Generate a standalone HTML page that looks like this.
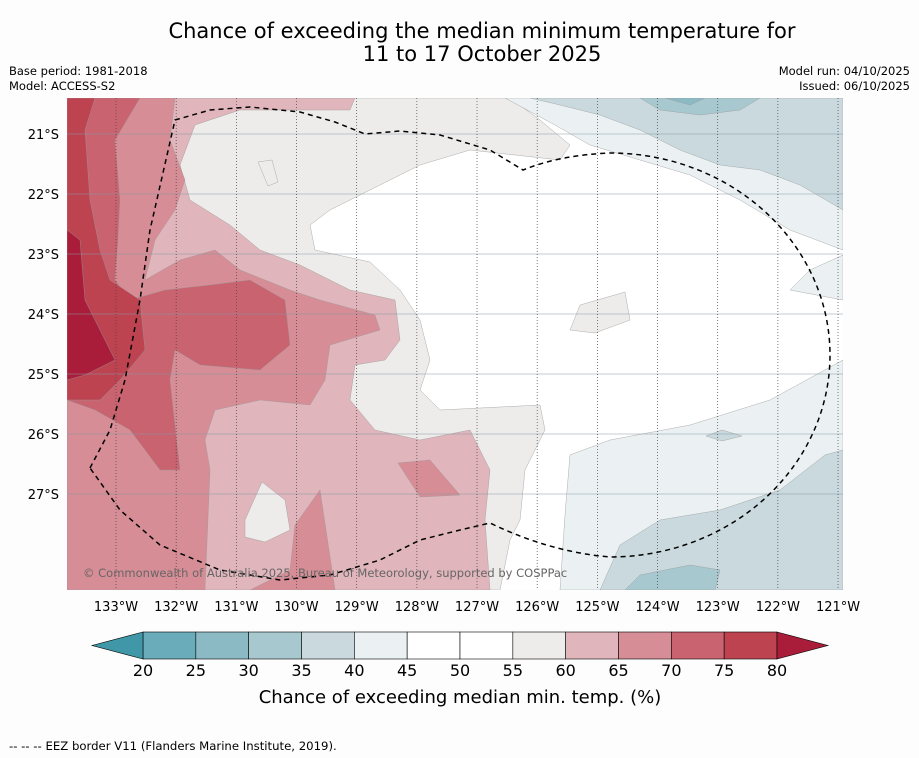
<!DOCTYPE html>
<html><head><meta charset="utf-8"><style>
body{margin:0;background:#fdfdfd;}
svg{display:block;font-family:"DejaVu Sans","Liberation Sans",sans-serif;}
</style></head><body>
<svg id="chart" width="919" height="758" viewBox="0 0 919 758">
<rect width="919" height="758" fill="#fdfdfd"/>
<text x="482" y="38" font-size="21" text-anchor="middle" fill="#000">Chance of exceeding the median minimum temperature for</text>
<text x="482" y="61" font-size="21" text-anchor="middle" fill="#000">11 to 17 October 2025</text>
<text x="9" y="75" font-size="11.5">Base period: 1981-2018</text>
<text x="9" y="90" font-size="11.5">Model: ACCESS-S2</text>
<text x="910" y="75" font-size="11.5" text-anchor="end">Model run: 04/10/2025</text>
<text x="910" y="90" font-size="11.5" text-anchor="end">Issued: 06/10/2025</text>
<defs><clipPath id="mapclip"><rect x="67" y="98" width="776" height="492"/></clipPath></defs>
<g clip-path="url(#mapclip)">
<rect x="67" y="98" width="776" height="492" fill="#ffffff"/>
<g id="contours" stroke="#999" stroke-width="0.4"></g>
<g id="grid"></g>
<path id="eez" fill="none" stroke="#000" stroke-width="1.5" stroke-dasharray="5,4"
d="M90,468 L110,430 L125,380 L140,300 L150,230 L175,120 L210,110 L250,107 L300,112 L335,122 L365,134 L400,131 L440,135 L490,150 L523,170 Q560,155 610,153 A220,202 0 0 1 610,557 Q550,552 490,523 L460,530 L420,540 L380,560 L330,575 L280,580 L220,570 L160,545 L120,510 Z"/>
<text x="83" y="577" font-size="11.5" fill="#666">© Commonwealth of Australia 2025, Bureau of Meteorology, supported by COSPPac</text>
</g>
<g id="axes"></g>
<g id="colorbar"></g>
<text x="460" y="703" font-size="18" text-anchor="middle">Chance of exceeding median min. temp. (%)</text>
<text x="9" y="750" font-size="11.7">--  --  -- EEZ border V11 (Flanders Marine Institute, 2019).</text>
</svg>
<script>
const levels=[20,25,30,35,40,45,50,55,60,65,70,75,80];
const levelColors=["#6aacba","#8bbac5","#a8c8cf","#c9d9de","#ebf1f3","#ffffff","#ffffff","#eeeceb","#e0b5bb","#d68d96","#c9636f","#bd4351"];
const underColor="#3f97a8", overColor="#a91d3a";
const lonTicks=[133,132,131,130,129,128,127,126,125,124,123,122,121];
const latTicks=[21,22,23,24,25,26,27];
const NS="http://www.w3.org/2000/svg";
const xLon=l=>116+(133-l)*60.17;
const yLat=l=>134+(l-21)*60;
const cx=v=>143+(v-20)*(634/60);
function mk(t,a,p){const e=document.createElementNS(NS,t);for(const k in a)e.setAttribute(k,a[k]);p.appendChild(e);return e;}
const regions=[
["#eeeceb","67,98 510,98 540,120 570,145 560,160 470,150 420,165 380,185 330,210 310,225 315,250 370,262 400,290 420,320 430,360 420,390 440,410 540,405 545,430 525,470 520,520 510,540 500,590 67,590"],
["#eeeceb","570,330 580,305 625,292 630,320 595,333"],
["#ebf1f3","505,98 843,98 843,250 790,230 740,200 690,175 640,160 590,145 555,125"],
["#ebf1f3","843,255 843,300 790,290 810,270"],
["#ebf1f3","843,360 843,590 560,590 565,515 570,455 610,440 690,425 770,400"],
["#c9d9de","530,98 843,98 843,210 800,185 760,170 720,165 680,150 640,130 600,115 560,105"],
["#c9d9de","600,590 620,545 660,520 720,510 780,490 825,455 843,450 843,590"],
["#c9d9de","706,436 722,430 742,436 722,441"],
["#a8c8cf","640,98 760,98 740,110 700,115 660,110"],
["#a8c8cf","625,590 640,575 690,565 720,570 715,590"],
["#8bbac5","665,98 705,98 690,105"],
["#e0b5bb","67,98 355,98 350,110 240,110 195,125 180,165 190,200 230,225 260,250 300,265 350,290 395,300 400,340 385,360 355,365 350,400 375,430 420,440 470,430 490,470 485,520 490,590 67,590"],
["#eeeceb","245,520 262,482 285,500 290,530 265,542 245,537"],
["#eeeceb","258,162 272,160 278,182 268,186"],
["#d68d96","67,98 175,98 170,140 185,180 175,210 155,240 145,280 180,260 215,250 240,270 290,290 320,300 375,315 380,330 330,345 325,380 310,405 260,400 215,410 205,440 210,470 205,590 67,590"],
["#d68d96","398,463 430,460 460,495 420,497"],
["#d68d96","295,525 320,490 335,590 250,590 290,570"],
["#c9636f","67,98 140,98 115,140 120,200 118,240 115,280 130,300 165,290 210,285 250,280 285,300 290,345 260,370 200,365 175,350 170,380 180,470 160,470 130,430 95,410 67,400"],
["#bd4351","67,98 95,98 85,130 90,200 100,250 110,280 140,300 145,350 120,380 100,400 67,400"],
["#a91d3a","67,230 80,240 85,300 100,330 115,360 85,375 67,380"]];
const cg=document.getElementById('contours');
regions.forEach(r=>{const p=mk('polygon',{points:r[1],fill:r[0]},cg);

});
const gg=document.getElementById('grid');
latTicks.forEach(l=>{const ln=mk('line',{x1:67,x2:843,y1:yLat(l),y2:yLat(l),stroke:'#8a9aa6','stroke-width':0.6},gg);

});
lonTicks.forEach(l=>{const ln=mk('line',{x1:xLon(l),x2:xLon(l),y1:98,y2:590,stroke:'#444','stroke-width':0.7,'stroke-dasharray':'1,2'},gg);

});
const ag=document.getElementById('axes');
latTicks.forEach(l=>{const t=mk('text',{x:59,y:yLat(l)+5,'font-size':13,'text-anchor':'end'},ag);t.textContent=l+'°S';

});
lonTicks.forEach(l=>{const t=mk('text',{x:xLon(l),y:611,'font-size':13,'text-anchor':'middle'},ag);t.textContent=l+'°W';

});
const cb=document.getElementById('colorbar');
for(let i=0;i<levelColors.length;i++){const r=mk('rect',{x:cx(levels[i]),y:632,width:cx(levels[i+1])-cx(levels[i]),height:27,fill:levelColors[i],stroke:'#000','stroke-width':0.6},cb);

}
const ul=mk('polygon',{points:`${cx(20)},632 92,645.5 ${cx(20)},659`,fill:underColor,stroke:'#000','stroke-width':0.6},cb);


const ol=mk('polygon',{points:`${cx(80)},632 828,645.5 ${cx(80)},659`,fill:overColor,stroke:'#000','stroke-width':0.6},cb);


levels.forEach(v=>{const t=mk('text',{x:cx(v),y:676,'font-size':16,'text-anchor':'middle'},cb);t.textContent=v;

});
</script>
</body></html>
